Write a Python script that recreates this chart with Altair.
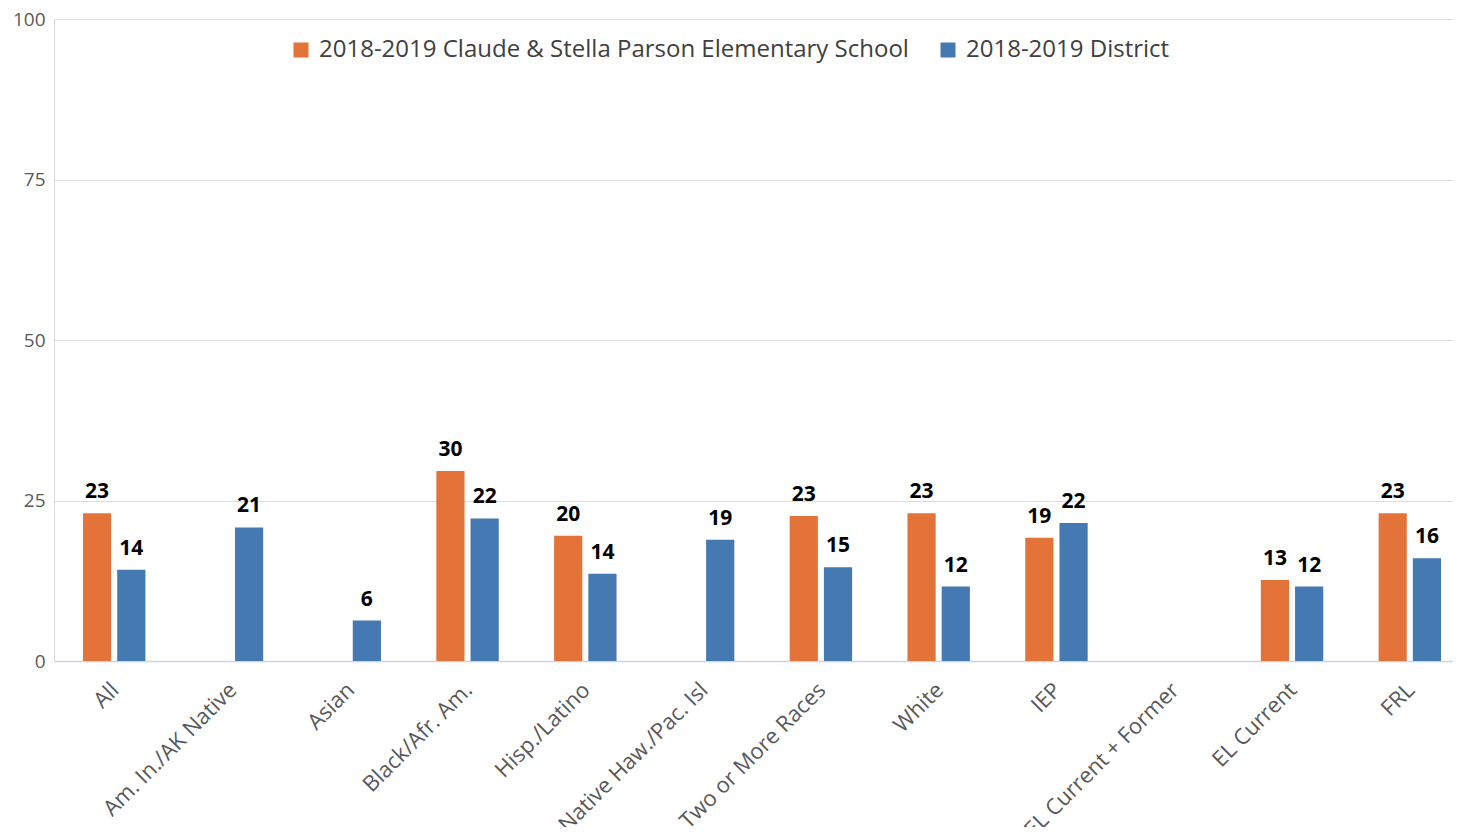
import altair as alt
import pandas as pd

categories = ["All", "Am. In./AK Native", "Asian", "Black/Afr. Am.", "Hisp./Latino",
              "Native Haw./Pac. Isl", "Two or More Races", "White", "IEP",
              "EL Current + Former", "EL Current", "FRL"]
school = [23.0, None, None, 29.6, 19.5, None, 22.6, 23.0, 19.2, None, 12.6, 23.0]
district = [14.2, 20.8, 6.3, 22.2, 13.6, 18.9, 14.6, 11.6, 21.5, None, 11.6, 16.0]
series = ["2018-2019 Claude & Stella Parson Elementary School", "2018-2019 District"]
colors = ["#E4733A", "#4579B1"]

rows = []
for i, c in enumerate(categories):
    for s, vals in zip(series, [school, district]):
        if vals[i] is not None:
            rows.append({"category": c, "series": s, "value": vals[i]})
df = pd.DataFrame(rows)

FONT = "Open Sans"

x = alt.X("category:N", sort=categories, title=None,
          scale=alt.Scale(domain=categories, paddingInner=0.47, paddingOuter=0.246,
                          range=[0, 1416]),
          axis=alt.Axis(labelAngle=-45, labelFontSize=22, labelColor="#595959",
                        labelFont=FONT, ticks=False, grid=False, domainColor="#CAD4E6",
                        domainWidth=1.5, labelPadding=18, labelOffset=-6,
                        labelLimit=400))
y = alt.Y("value:Q", title=None,
          scale=alt.Scale(domain=[0, 100], nice=False),
          axis=alt.Axis(values=[0, 25, 50, 75, 100], labelFontSize=19,
                        labelColor="#595959", labelFont=FONT, ticks=False, grid=True,
                        domainColor="#D9D9D9", gridColor="#DDDDDD",
                        labelPadding=9))
xoff = alt.XOffset("series:N", sort=series,
                   scale=alt.Scale(domain=series, paddingInner=0.176, paddingOuter=0))

bars = alt.Chart(df).mark_bar().encode(
    x=x, y=y, xOffset=xoff,
    color=alt.Color("series:N", sort=series,
                    scale=alt.Scale(domain=series, range=colors),
                    legend=alt.Legend(title=None, orient="none", direction="horizontal",
                                      legendX=235, legendY=19, symbolType="square",
                                      symbolSize=225, symbolStrokeWidth=0,
                                      labelFontSize=24, labelFont=FONT,
                                      labelColor="#404040", labelLimit=800,
                                      columnPadding=27, labelOffset=6))
)

labels = alt.Chart(df).mark_text(
    baseline="bottom", dy=-11, fontSize=21, fontWeight="bold", font=FONT, color="#000000"
).encode(
    x=x, y=y, xOffset=xoff,
    text=alt.Text("value:Q", format=".0f")
)

chart = (bars + labels).properties(
    width=1391, height=642,
    autosize=alt.AutoSizeParams(type="none"),
    padding={"left": 46, "top": 11, "right": 8, "bottom": 166}
).configure_view(stroke=None)

chart.save("out.html", embed_options={"renderer": "svg", "actions": False})
